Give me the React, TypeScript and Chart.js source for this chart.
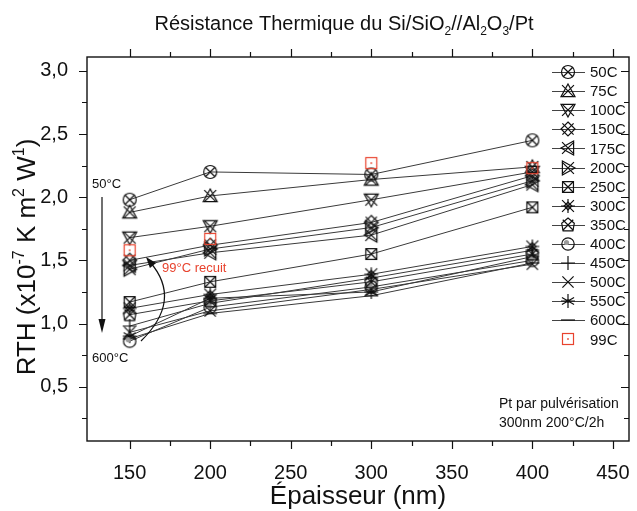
import React, { useEffect, useRef } from 'react';
import { Chart, registerables } from 'chart.js';

Chart.register(...registerables);

// ---------------- data ----------------
const thicknessNm = [150, 200, 300, 400];

const rth50C = [1.98, 2.2, 2.18, 2.45];
const rth75C = [1.88, 2.01, 2.14, 2.24];
const rth100C = [1.68, 1.77, 1.98, 2.2];
const rth150C = [1.5, 1.62, 1.8, 2.17];
const rth175C = [1.46, 1.56, 1.7, 2.1];
const rth200C = [1.43, 1.59, 1.76, 2.13];
const rth250C = [1.17, 1.33, 1.55, 1.92];
const rth300C = [1.12, 1.23, 1.39, 1.61];
const rth350C = [1.07, 1.18, 1.33, 1.55];
const rth400C = [0.86, 1.13, 1.29, 1.5];
const rth450C = [0.98, 1.16, 1.36, 1.58];
const rth500C = [0.93, 1.1, 1.27, 1.47];
const rth550C = [0.9, 1.2, 1.25, 1.53];
const rth600C = [0.88, 1.08, 1.22, 1.48];
const rth99C = [1.58, 1.67, 2.27, 2.23];

const seriesNames = ['50C', '75C', '100C', '150C', '175C', '200C', '250C', '300C', '350C', '400C', '450C', '500C', '550C', '600C', '99C'];
const seriesValues = [rth50C, rth75C, rth100C, rth150C, rth175C, rth200C, rth250C, rth300C, rth350C, rth400C, rth450C, rth500C, rth550C, rth600C, rth99C];

const xTickValues = [150, 200, 250, 300, 350, 400, 450];
const yTickValues = [0.5, 1.0, 1.5, 2.0, 2.5, 3.0];
const X_MIN = 123.5;
const X_MAX = 460;
const Y_MIN = 0.07;
const Y_MAX = 3.11;

const FONT = '"Liberation Sans", Arial, Helvetica, sans-serif';
const RED = '#e8432e';
const INK = '#111';

// ---------------- marker glyphs ----------------
function makeMarker(kind: string): HTMLCanvasElement {
  const s = 18;
  const c = document.createElement('canvas');
  c.width = s;
  c.height = s;
  const g = c.getContext('2d') as CanvasRenderingContext2D;
  const m = s / 2;
  const r = 7;
  g.strokeStyle = INK;
  g.lineWidth = 1.2;
  const X = (k: number) => {
    g.beginPath();
    g.moveTo(m - k, m - k);
    g.lineTo(m + k, m + k);
    g.moveTo(m + k, m - k);
    g.lineTo(m - k, m + k);
    g.stroke();
  };
  const poly = (pts: number[][]) => {
    g.beginPath();
    pts.forEach(([px, py], i) => (i ? g.lineTo(m + px, m + py) : g.moveTo(m + px, m + py)));
    g.closePath();
    g.stroke();
  };
  switch (kind) {
    case '50C':
      g.beginPath();
      g.arc(m, m, r - 0.5, 0, Math.PI * 2);
      g.stroke();
      X(r * 0.72);
      break;
    case '75C':
      poly([[0, -r], [r, r * 0.8], [-r, r * 0.8]]);
      X(r * 0.85);
      break;
    case '100C':
      poly([[0, r], [r, -r * 0.8], [-r, -r * 0.8]]);
      X(r * 0.85);
      break;
    case '150C':
      poly([[0, -r], [r, 0], [0, r], [-r, 0]]);
      X(r * 0.8);
      break;
    case '175C':
      poly([[-r, 0], [r * 0.8, -r], [r * 0.8, r]]);
      X(r * 0.85);
      break;
    case '200C':
      poly([[r, 0], [-r * 0.8, -r], [-r * 0.8, r]]);
      X(r * 0.85);
      break;
    case '250C':
      poly([[-r * 0.78, -r * 0.78], [r * 0.78, -r * 0.78], [r * 0.78, r * 0.78], [-r * 0.78, r * 0.78]]);
      X(r * 0.78);
      break;
    case '300C':
      X(r * 0.85);
      g.beginPath();
      g.moveTo(m, m - r);
      g.lineTo(m, m + r);
      g.moveTo(m - r, m);
      g.lineTo(m + r, m);
      g.stroke();
      poly([[0, -r * 0.55], [r * 0.55, 0], [0, r * 0.55], [-r * 0.55, 0]]);
      break;
    case '350C':
      poly([[0, -r], [r * 0.9, -r * 0.25], [r * 0.7, r * 0.85], [-r * 0.7, r * 0.85], [-r * 0.9, -r * 0.25]]);
      X(r * 0.75);
      break;
    case '400C':
      g.beginPath();
      g.arc(m, m, r - 0.8, 0, Math.PI * 2);
      g.stroke();
      g.fillStyle = '#9a9a9a';
      g.beginPath();
      g.arc(m - 1.5, m - 1.5, 2.6, 0, Math.PI * 2);
      g.fill();
      break;
    case '450C':
      g.beginPath();
      g.moveTo(m, m - r);
      g.lineTo(m, m + r);
      g.moveTo(m - r, m);
      g.lineTo(m + r, m);
      g.stroke();
      break;
    case '500C':
      X(r * 0.8);
      break;
    case '550C': {
      g.beginPath();
      for (let k = 0; k < 3; k++) {
        const a = Math.PI / 2 + (k * Math.PI) / 3;
        g.moveTo(m + r * Math.cos(a), m + r * Math.sin(a));
        g.lineTo(m - r * Math.cos(a), m - r * Math.sin(a));
      }
      g.moveTo(m - r, m);
      g.lineTo(m + r, m);
      g.stroke();
      g.fillStyle = INK;
      g.beginPath();
      g.arc(m, m, 1.8, 0, Math.PI * 2);
      g.fill();
      break;
    }
    case '600C':
      g.beginPath();
      g.moveTo(m - r, m);
      g.lineTo(m + r, m);
      g.stroke();
      break;
    case '99C':
      g.strokeStyle = RED;
      g.lineWidth = 1.2;
      g.strokeRect(m - 5.5, m - 5.5, 11, 11);
      g.fillStyle = RED;
      g.fillRect(m - 0.8, m - 0.8, 1.6, 1.6);
      break;
  }
  return c;
}

// ---------------- text helpers ----------------
type Piece = [string, 'n' | 'sub' | 'sup'];

function pieceFont(size: number, kind: string) {
  return `${kind === 'n' ? size : Math.round(size * 0.62)}px ${FONT}`;
}
function measurePieces(ctx: CanvasRenderingContext2D, pieces: Piece[], size: number) {
  let w = 0;
  for (const [t, k] of pieces) {
    ctx.font = pieceFont(size, k);
    w += ctx.measureText(t).width;
  }
  return w;
}
function drawPieces(ctx: CanvasRenderingContext2D, pieces: Piece[], size: number, x: number, baseline: number) {
  let cx = x;
  ctx.textAlign = 'left';
  ctx.textBaseline = 'alphabetic';
  for (const [t, k] of pieces) {
    ctx.font = pieceFont(size, k);
    const dy = k === 'sub' ? size * 0.25 : k === 'sup' ? -size * 0.42 : 0;
    ctx.fillText(t, cx, baseline + dy);
    cx += ctx.measureText(t).width;
  }
}

const titlePieces: Piece[] = [
  ['Résistance Thermique du Si/SiO', 'n'],
  ['2', 'sub'],
  ['//Al', 'n'],
  ['2', 'sub'],
  ['O', 'n'],
  ['3', 'sub'],
  ['/Pt', 'n'],
];
const yTitlePieces: Piece[] = [
  ['RTH (x10', 'n'],
  ['-7', 'sup'],
  [' K m', 'n'],
  ['2', 'sup'],
  [' W', 'n'],
  ['1', 'sup'],
  [')', 'n'],
];

function arrowHead(ctx: CanvasRenderingContext2D, tipX: number, tipY: number, dx: number, dy: number, len: number, half: number) {
  const n = Math.hypot(dx, dy);
  const ux = dx / n;
  const uy = dy / n;
  const bx = tipX - ux * len;
  const by = tipY - uy * len;
  ctx.beginPath();
  ctx.moveTo(tipX, tipY);
  ctx.lineTo(bx - uy * half, by + ux * half);
  ctx.lineTo(bx + uy * half, by - ux * half);
  ctx.closePath();
  ctx.fill();
}

// ---------------- decoration plugin ----------------
const decorPlugin = {
  id: 'decor',
  afterDraw(chart: any) {
    const ctx: CanvasRenderingContext2D = chart.ctx;
    const a = chart.chartArea;
    const xs = chart.scales.x;
    const ys = chart.scales.y;
    ctx.save();

    // frame
    ctx.strokeStyle = INK;
    ctx.lineWidth = 1.4;
    ctx.strokeRect(a.left, a.top, a.right - a.left, a.bottom - a.top);

    // ticks (major + minor)
    ctx.lineWidth = 1.2;
    ctx.beginPath();
    for (let i = 0; ; i++) {
      const v = xTickValues[0] + i * 25;
      if (v > X_MAX) break;
      const px = Math.round(xs.getPixelForValue(v)) + 0.5;
      const L = i % 2 === 0 ? 8 : 5;
      ctx.moveTo(px, a.bottom);
      ctx.lineTo(px, a.bottom + L);
      ctx.moveTo(px, a.top);
      ctx.lineTo(px, a.top - L);
    }
    for (let i = 1; ; i++) {
      const v = i * 0.25;
      if (v > Y_MAX) break;
      if (v < Y_MIN) continue;
      const py = Math.round(ys.getPixelForValue(v)) + 0.5;
      const L = i % 2 === 0 ? 8 : 5;
      ctx.moveTo(a.left, py);
      ctx.lineTo(a.left - L, py);
      ctx.moveTo(a.right, py);
      ctx.lineTo(a.right - L, py);
    }
    ctx.stroke();

    // chart title
    ctx.fillStyle = INK;
    const tw = measurePieces(ctx, titlePieces, 20);
    drawPieces(ctx, titlePieces, 20, 344 - tw / 2, 30);

    // x axis title
    ctx.font = `26px ${FONT}`;
    ctx.textAlign = 'center';
    ctx.textBaseline = 'alphabetic';
    ctx.fillText('Épaisseur (nm)', (a.left + a.right) / 2, 504);

    // y axis title
    ctx.save();
    ctx.translate(35, (a.top + a.bottom) / 2 + 8);
    ctx.rotate(-Math.PI / 2);
    const yw = measurePieces(ctx, yTitlePieces, 26);
    drawPieces(ctx, yTitlePieces, 26, -yw / 2, 0);
    ctx.restore();

    // annotations
    ctx.font = `13px ${FONT}`;
    ctx.textAlign = 'left';
    ctx.textBaseline = 'middle';
    ctx.fillStyle = INK;
    ctx.fillText('50°C', 92, 184);
    ctx.fillText('600°C', 92, 358);
    ctx.strokeStyle = INK;
    ctx.lineWidth = 1.2;
    ctx.beginPath();
    ctx.moveTo(102, 197);
    ctx.lineTo(102, 320);
    ctx.stroke();
    arrowHead(ctx, 102, 333, 0, 1, 14, 3.5);

    ctx.beginPath();
    ctx.moveTo(141, 341);
    ctx.quadraticCurveTo(183, 300, 150, 262);
    ctx.stroke();
    arrowHead(ctx, 146, 257, -33, -40, 11, 4);

    ctx.fillStyle = RED;
    ctx.font = `13px ${FONT}`;
    ctx.fillText('99°C recuit', 162, 268);

    ctx.fillStyle = INK;
    ctx.font = `14px ${FONT}`;
    ctx.fillText('Pt par pulvérisation', 499, 404);
    ctx.fillText('300nm 200°C/2h', 499, 423);

    // legend
    ctx.font = `15px ${FONT}`;
    chart.data.datasets.forEach((ds: any, i: number) => {
      const y = 72 + 19.1 * i;
      if (ds.showLine) {
        ctx.strokeStyle = '#444';
        ctx.lineWidth = 1;
        ctx.beginPath();
        ctx.moveTo(552, Math.round(y) + 0.5);
        ctx.lineTo(585, Math.round(y) + 0.5);
        ctx.stroke();
      }
      const img = ds.pointStyle as HTMLCanvasElement;
      ctx.drawImage(img, 568 - img.width / 2, Math.round(y) - img.height / 2);
      ctx.fillStyle = INK;
      ctx.fillText(ds.label, 590, y + 1);
    });

    ctx.restore();
  },
};

export default function App() {
  const ref = useRef<HTMLCanvasElement>(null);

  useEffect(() => {
    document.body.style.margin = '0';
    const canvas = ref.current as HTMLCanvasElement;

    const datasets = seriesNames.map((name, si) => {
      const isAnneal = name === '99C';
      return {
        label: name,
        data: thicknessNm.map((x, i) => ({ x, y: seriesValues[si][i] })),
        showLine: !isAnneal,
        borderColor: '#3a3a3a',
        borderWidth: 1,
        backgroundColor: 'transparent',
        pointStyle: makeMarker(name),
        pointRadius: 7,
        pointHoverRadius: 7,
        order: isAnneal ? -1 : 0,
      };
    });

    const chart = new Chart(canvas, {
      type: 'scatter',
      data: { datasets } as any,
      options: {
        animation: false,
        responsive: false,
        events: [],
        layout: { padding: { top: 57, right: 4, left: 0, bottom: 0 } },
        plugins: {
          legend: { display: false },
          tooltip: { enabled: false },
          title: { display: false },
        },
        scales: {
          x: {
            type: 'linear',
            position: 'bottom',
            min: X_MIN,
            max: X_MAX,
            grid: { display: false },
            border: { display: false },
            ticks: {
              color: INK,
              font: { family: FONT, size: 20 },
              padding: 12,
              maxRotation: 0,
              autoSkip: false,
              callback: (v: any) => String(v),
            },
            afterBuildTicks: (s: any) => {
              s.ticks = xTickValues.map((v) => ({ value: v }));
            },
            afterFit: (s: any) => {
              s.height = 70;
              s.paddingLeft = 0;
              s.paddingRight = 0;
            },
          },
          y: {
            type: 'linear',
            min: Y_MIN,
            max: Y_MAX,
            grid: { display: false },
            border: { display: false },
            ticks: {
              color: INK,
              font: { family: FONT, size: 20 },
              padding: 11,
              autoSkip: false,
              callback: (v: any) => Number(v).toFixed(1).replace('.', ','),
            },
            afterBuildTicks: (s: any) => {
              s.ticks = yTickValues.map((v) => ({ value: v }));
            },
            afterFit: (s: any) => {
              s.width = 87;
              s.paddingTop = 0;
              s.paddingBottom = 0;
            },
          },
        },
      } as any,
      plugins: [decorPlugin],
    });

    return () => chart.destroy();
  }, []);

  return (
    <div style={{ position: 'absolute', left: 0, top: 0, width: 637, height: 511, background: '#fff' }}>
      <canvas ref={ref} width={637} height={511} style={{ display: 'block', width: '637px', height: '511px' }} />
    </div>
  );
}
